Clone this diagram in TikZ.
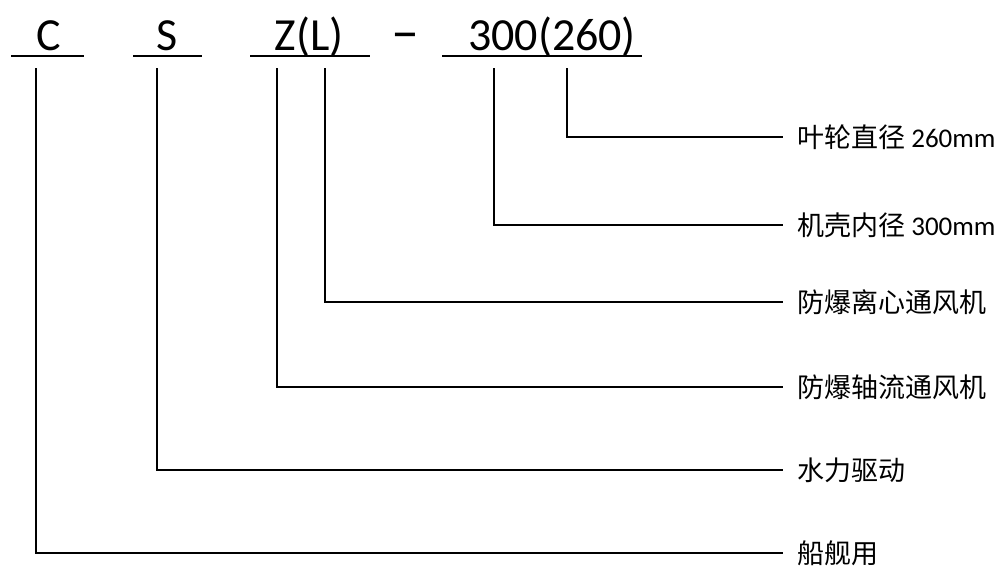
\documentclass[tikz,border=0pt]{standalone}
\usepackage{fontspec}
\setmainfont{Carlito}
\newfontfamily\cjk{Noto Sans CJK SC}

\begin{document}
\begin{tikzpicture}[x=1pt, y=-1pt,
  code/.style={font=\fontsize{46}{46}\selectfont, inner sep=0pt, anchor=base},
  uline/.style={line width=2.6pt},
  lead/.style={line width=1.6pt},
  desc/.style={font=\fontsize{27}{27}\selectfont, anchor=west, inner xsep=14pt, inner ysep=0pt},
]
\useasboundingbox (0,0) rectangle (1008,574);

% model code
\node (c)   [code] at (48.5,50) {C};
\node (s)   [code] at (167,50)  {S};
\node (zl)  [code] at (309,50)  {Z(L)};
\node (dash)[code, font=\fontsize{56}{56}\selectfont] at (405,50) {–};
\node (num) [code] at (552,50)  {300(260)};
\foreach \a/\b in {11/84, 133/202, 250/370, 442/642}
  \draw[uline] (\a,56) -- (\b,56);

% leaders
\foreach \i/\x/\y/\t in {
    1/567/137/{{\cjk 叶轮直径} 260mm},
    2/494/225/{{\cjk 机壳内径} 300mm},
    3/325/302/{\cjk 防爆离心通风机},
    4/277/387/{\cjk 防爆轴流通风机},
    5/157/470/{\cjk 水力驱动},
    6/36/553/{\cjk 船舰用}} {
  \coordinate (t\i) at (\x,68);
  \node (d\i) [desc] at (783,\y) {\t};
  \draw[lead] (t\i) |- (d\i.west);
}
\end{tikzpicture}
\end{document}
